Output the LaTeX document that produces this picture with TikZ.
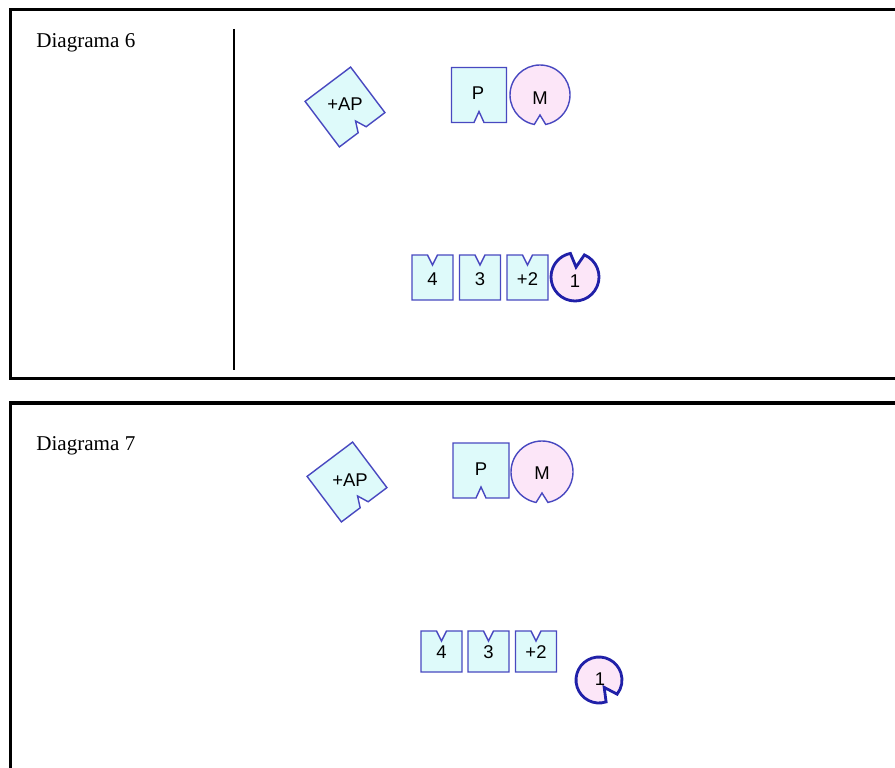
\documentclass[tikz,border=0pt]{standalone}
\usepackage{fontspec}
\setmainfont{Liberation Serif}
\newfontfamily\piecefont{Liberation Sans}
\definecolor{pieceblue}{RGB}{72,72,192}
\definecolor{darkpiece}{RGB}{32,32,168}
\definecolor{piecefill}{RGB}{222,250,250}
\definecolor{discfill}{RGB}{252,230,248}
\tikzset{
  frame/.style={line width=1.9pt},
  piece/.style={draw=pieceblue,fill=piecefill,line width=0.8pt},
  disc/.style={draw=pieceblue,fill=discfill,line width=0.8pt},
  onedisc/.style={draw=darkpiece,fill=discfill,line width=1.6pt},
  lbl/.style={font=\piecefont\fontsize{10.5}{12}\selectfont,inner sep=0pt},
  title/.style={anchor=base west,inner sep=0pt,font=\fontsize{12}{14}\selectfont}
}

\begin{document}
\begin{tikzpicture}[x=0.02cm,y=-0.02cm]
  % Canvas (pixel units, y down)
  \useasboundingbox (0,0) rectangle (895,767);
  \clip (0,0) rectangle (895,767);
  %
  % Frames
  \draw[frame] (10.5,9.5) rectangle (940,378.5);
  \draw[frame] (10.5,403) rectangle (940,800);
  \draw[line width=1.5pt] (234,29) -- (234,370);
  \node[title] (title6) at (36,48) {Diagrama 6};
  \node[title] (title7) at (36,450) {Diagrama 7};
  %
  % Diagram 6: +AP, P and M
  \draw[piece,shift={(345,107)},rotate=37] (-28.5,-28.5) -- (28.5,-28.5)
    -- (28.5,28.5) -- (5,28.5) -- (0,17.5) -- (-5,28.5) -- (-28.5,28.5) -- cycle;
  \node[lbl] (ap6) at (345,104) {+AP};
  \draw[piece,shift={(479,95)}] (-27.5,-27.5) -- (27.5,-27.5) -- (27.5,27.5)
    -- (5,27.5) -- (0,16.5) -- (-5,27.5) -- (-27.5,27.5) -- cycle;
  \node[lbl] (p6) at (478,93) {P};
  \draw[disc,shift={(540,95)}] (101:30) arc[start angle=101,end angle=439,radius=30]
    -- (90:20) -- cycle;
  \node[lbl] (m6) at (540,98) {M};
  %
  % Diagram 6: 4, 3, +2 and 1
  \foreach \x/\t/\n in {432.5/4/four6, 480/3/three6, 527.5/+2/two6} {
    \draw[piece,shift={(\x,277.5)}] (-20.5,-22.5) -- (-5,-22.5) -- (0,-12.5)
      -- (5,-22.5) -- (20.5,-22.5) -- (20.5,22.5) -- (-20.5,22.5) -- cycle;
    \node[lbl] (\n) at (\x,279) {\t};
  }
  \draw[onedisc,shift={(575,277)}] (293:24) arc[start angle=293,end angle=619,radius=24]
    -- (276:10) -- cycle;
  \node[lbl] (one6) at (575,281) {1};
  %
  % Diagram 7: +AP, P and M
  \draw[piece,shift={(347,482)},rotate=37] (-28.5,-28.5) -- (28.5,-28.5)
    -- (28.5,28.5) -- (5,28.5) -- (0,17.5) -- (-5,28.5) -- (-28.5,28.5) -- cycle;
  \node[lbl] (ap7) at (350,480) {+AP};
  \draw[piece,shift={(481,470.5)}] (-28,-27.5) -- (28,-27.5) -- (28,27.5)
    -- (5,27.5) -- (0,16.5) -- (-5,27.5) -- (-28,27.5) -- cycle;
  \node[lbl] (p7) at (481,469) {P};
  \draw[disc,shift={(542,472)}] (101:31) arc[start angle=101,end angle=439,radius=31]
    -- (90:21) -- cycle;
  \node[lbl] (m7) at (542,473) {M};
  %
  % Diagram 7: 4, 3, +2 and 1
  \foreach \x/\t/\n in {441.5/4/four7, 488.5/3/three7, 536/+2/two7} {
    \draw[piece,shift={(\x,651.5)}] (-20.5,-20.5) -- (-5,-20.5) -- (0,-10.5)
      -- (5,-20.5) -- (20.5,-20.5) -- (20.5,20.5) -- (-20.5,20.5) -- cycle;
    \node[lbl] (\n) at (\x,652) {\t};
  }
  \draw[onedisc,shift={(599,680)}] (72:23) arc[start angle=72,end angle=398,radius=23]
    -- (55:9) -- cycle;
  \node[lbl] (one7) at (600,679) {1};
  %
\end{tikzpicture}
\end{document}
